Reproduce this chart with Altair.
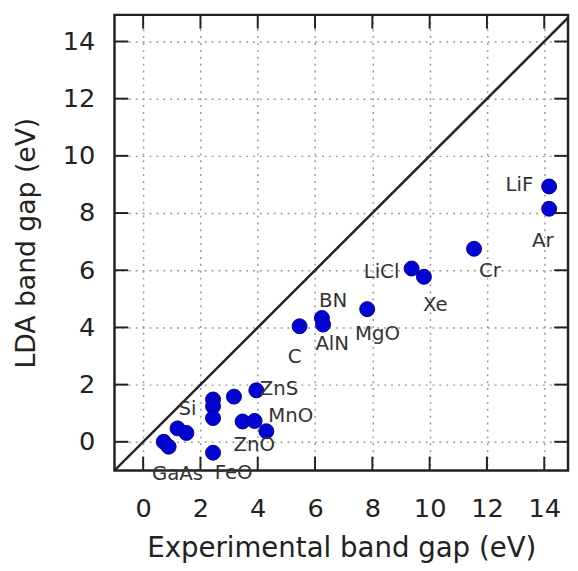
import altair as alt
import pandas as pd

# Data points: experimental gap (x) vs LDA gap (y)
exp_gap = [0.72, 0.89, 1.20, 1.51, 2.44, 2.44, 2.44, 2.44, 3.17, 3.95, 3.47, 3.89, 4.30,
           5.46, 6.24, 6.28, 7.82, 9.37, 9.80, 11.55, 14.17, 14.17]
lda_gap = [0.00, -0.17, 0.47, 0.31, 1.48, 1.24, 0.83, -0.38, 1.58, 1.80, 0.71, 0.73, 0.37,
           4.04, 4.33, 4.10, 4.64, 6.06, 5.77, 6.75, 8.93, 8.15]

# Annotation labels and their anchor positions (data units)
label_names = ["GaAs", "FeO", "Si", "ZnS", "MnO", "ZnO", "C", "AlN", "BN", "MgO",
               "LiCl", "Xe", "Cr", "LiF", "Ar"]
label_x = [1.20, 3.16, 1.55, 4.74, 5.15, 3.88, 5.29, 6.60, 6.63, 8.18,
           8.32, 10.20, 12.10, 13.13, 13.95]
label_y = [-1.14, -1.10, 1.14, 1.83, 0.90, -0.10, 2.97, 3.41, 4.93, 3.76,
           5.93, 4.79, 5.97, 8.97, 7.03]

tick_vals = [0, 2, 4, 6, 8, 10, 12, 14]
diag_vals = [-1, 16]

X_DOMAIN = [-1, 14.83]
Y_DOMAIN = [-1, 14.93]
W, H = 460, 462
TICK_LEN = 14
FONT = "DejaVu Sans"

pts = pd.DataFrame({"x": exp_gap, "y": lda_gap})
labels = pd.DataFrame({"name": label_names, "x": label_x, "y": label_y})
ticks = pd.DataFrame({"v": tick_vals})
diag = pd.DataFrame({"v": diag_vals})
frame = pd.DataFrame({"k": [0]})

xscale = alt.Scale(domain=X_DOMAIN, nice=False, zero=False)
yscale = alt.Scale(domain=Y_DOMAIN, nice=False, zero=False)

xaxis = alt.Axis(values=tick_vals, title="Experimental band gap (eV)", ticks=False,
                 domain=False, grid=True, gridDash=[2, 5], gridColor="#9a9a9a",
                 gridWidth=1.5, labelFontSize=26, labelColor="#222", labelPadding=26,
                 labelFont=FONT, titleFont=FONT, titleFontSize=28, titleFontWeight="normal",
                 titleColor="#222", titlePadding=13, labelFlush=False)
yaxis = alt.Axis(values=tick_vals, title="LDA band gap (eV)", ticks=False,
                 domain=False, grid=True, gridDash=[2, 5], gridColor="#9a9a9a",
                 gridWidth=1.5, labelFontSize=26, labelColor="#222", labelPadding=20,
                 labelFont=FONT, titleFont=FONT, titleFontSize=27, titleFontWeight="normal",
                 titleColor="#222", titlePadding=22, labelFlush=False)

diag_line = alt.Chart(diag).mark_line(color="#222", strokeWidth=2.5, clip=True).encode(
    x=alt.X("v:Q", scale=xscale, axis=xaxis),
    y=alt.Y("v:Q", scale=yscale, axis=yaxis),
)

points = alt.Chart(pts).mark_circle(size=230, color="#0404d2", opacity=1,
                                    stroke="#00009a", strokeWidth=1).encode(
    x=alt.X("x:Q", scale=xscale),
    y=alt.Y("y:Q", scale=yscale),
)

texts = alt.Chart(labels).mark_text(fontSize=20, font=FONT, color="#333",
                                    align="center", baseline="middle").encode(
    x=alt.X("x:Q", scale=xscale),
    y=alt.Y("y:Q", scale=yscale),
    text="name:N",
)

tick_style = dict(color="#222", strokeWidth=2)
bottom_ticks = alt.Chart(ticks).mark_rule(**tick_style).encode(
    x=alt.X("v:Q", scale=xscale), y=alt.value(H), y2=alt.value(H - TICK_LEN))
top_ticks = alt.Chart(ticks).mark_rule(**tick_style).encode(
    x=alt.X("v:Q", scale=xscale), y=alt.value(0), y2=alt.value(TICK_LEN))
left_ticks = alt.Chart(ticks).mark_rule(**tick_style).encode(
    y=alt.Y("v:Q", scale=yscale), x=alt.value(0), x2=alt.value(TICK_LEN))
right_ticks = alt.Chart(ticks).mark_rule(**tick_style).encode(
    y=alt.Y("v:Q", scale=yscale), x=alt.value(W), x2=alt.value(W - TICK_LEN))

frame_rect = alt.Chart(frame).mark_rect(fill=None, filled=False, stroke="#222",
                                        strokeWidth=2.5).encode(
    x=alt.value(0), x2=alt.value(W), y=alt.value(0), y2=alt.value(H))

chart = alt.layer(
    diag_line, bottom_ticks, top_ticks, left_ticks, right_ticks, frame_rect, points, texts
).properties(
    width=W, height=H,
    autosize=alt.AutoSizeParams(type="none"),
    padding={"left": 108, "top": 3, "right": 2, "bottom": 95},
).configure_view(
    stroke=None
).configure(background="white")

chart.save("out.html", embed_options={"renderer": "svg", "actions": False})
